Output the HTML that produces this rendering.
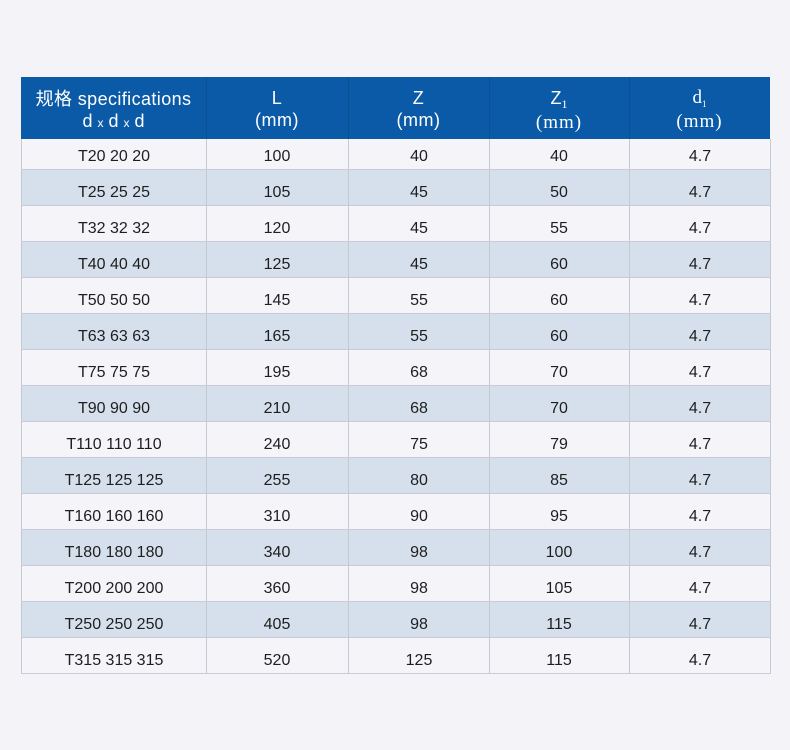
<!DOCTYPE html>
<html>
<head>
<meta charset="utf-8">
<style>
html,body{margin:0;padding:0;}
body{width:790px;height:750px;background:#f3f3f8;position:relative;overflow:hidden;font-family:"Liberation Sans","Noto Sans CJK SC",sans-serif;}
.hdr{position:absolute;left:21px;top:77px;width:749px;height:62px;background:#0a5aa8;}
.vl{position:absolute;top:0;width:1px;height:62px;background:#0d4f93;}
.ht{position:absolute;color:#fff;text-align:center;white-space:nowrap;}
.row{position:absolute;left:21px;width:748px;border-left:1px solid #c5c9d3;border-right:1px solid #c5c9d3;border-bottom:1px solid #c8ccd6;box-sizing:content-box;}
.t{position:absolute;font-size:16px;color:#1e1e1e;white-space:nowrap;text-align:center;transform:translateX(-50%);line-height:20px;}
.serif{font-family:"Liberation Serif","Noto Serif CJK SC",serif;}
</style>
</head>
<body>
<div class="hdr">
  <div class="vl" style="left:185px"></div>
  <div class="vl" style="left:327px"></div>
  <div class="vl" style="left:468px"></div>
  <div class="vl" style="left:608px"></div>
</div>
<div class="ht" style="left:21px;width:185px;top:88px;font-size:18px;line-height:22px;letter-spacing:0.4px;">规格 specifications<br><span style="letter-spacing:0">d <span style="font-size:12px">x</span> d <span style="font-size:12px">x</span> d</span></div>
<div class="ht" style="left:206px;width:142px;top:87px;font-size:18px;line-height:22px;letter-spacing:0.5px;">L<br>(mm)</div>
<div class="ht" style="left:348px;width:141px;top:87px;font-size:18px;line-height:22px;letter-spacing:0.5px;">Z<br>(mm)</div>
<div class="ht" style="left:489px;width:140px;top:87px;font-size:18px;line-height:22px;"><span>Z</span><span class="serif" style="font-size:12px;position:relative;top:4px;">1</span><br><span class="serif" style="letter-spacing:1px;font-size:19px;">(mm)</span></div>
<div class="ht serif" style="left:629px;width:141px;top:87px;font-size:19px;line-height:22px;"><span>d</span><span style="font-size:9px;position:relative;top:4px;">1</span><br><span style="letter-spacing:1px;font-size:19px;">(mm)</span></div>

<div class="row" style="top:139px;height:30px;background:#f5f5f9;"></div>
<div class="row" style="top:170px;height:35px;background:#d6e0ed;"></div>
<div class="row" style="top:206px;height:35px;background:#f5f5f9;"></div>
<div class="row" style="top:242px;height:35px;background:#d6e0ed;"></div>
<div class="row" style="top:278px;height:35px;background:#f5f5f9;"></div>
<div class="row" style="top:314px;height:35px;background:#d6e0ed;"></div>
<div class="row" style="top:350px;height:35px;background:#f5f5f9;"></div>
<div class="row" style="top:386px;height:35px;background:#d6e0ed;"></div>
<div class="row" style="top:422px;height:35px;background:#f5f5f9;"></div>
<div class="row" style="top:458px;height:35px;background:#d6e0ed;"></div>
<div class="row" style="top:494px;height:35px;background:#f5f5f9;"></div>
<div class="row" style="top:530px;height:35px;background:#d6e0ed;"></div>
<div class="row" style="top:566px;height:35px;background:#f5f5f9;"></div>
<div class="row" style="top:602px;height:35px;background:#d6e0ed;"></div>
<div class="row" style="top:638px;height:35px;background:#f5f5f9;"></div>

<div style="position:absolute;left:206px;top:139px;width:1px;height:535px;background:#c5c9d3;"></div>
<div style="position:absolute;left:348px;top:139px;width:1px;height:535px;background:#c5c9d3;"></div>
<div style="position:absolute;left:489px;top:139px;width:1px;height:535px;background:#c5c9d3;"></div>
<div style="position:absolute;left:629px;top:139px;width:1px;height:535px;background:#c5c9d3;"></div>

<div class="t" style="left:114px;top:147px">T20 20 20</div><div class="t" style="left:277px;top:147px">100</div><div class="t" style="left:419px;top:147px">40</div><div class="t" style="left:559px;top:147px">40</div><div class="t" style="left:700px;top:147px">4.7</div>
<div class="t" style="left:114px;top:183px">T25 25 25</div><div class="t" style="left:277px;top:183px">105</div><div class="t" style="left:419px;top:183px">45</div><div class="t" style="left:559px;top:183px">50</div><div class="t" style="left:700px;top:183px">4.7</div>
<div class="t" style="left:114px;top:219px">T32 32 32</div><div class="t" style="left:277px;top:219px">120</div><div class="t" style="left:419px;top:219px">45</div><div class="t" style="left:559px;top:219px">55</div><div class="t" style="left:700px;top:219px">4.7</div>
<div class="t" style="left:114px;top:255px">T40 40 40</div><div class="t" style="left:277px;top:255px">125</div><div class="t" style="left:419px;top:255px">45</div><div class="t" style="left:559px;top:255px">60</div><div class="t" style="left:700px;top:255px">4.7</div>
<div class="t" style="left:114px;top:291px">T50 50 50</div><div class="t" style="left:277px;top:291px">145</div><div class="t" style="left:419px;top:291px">55</div><div class="t" style="left:559px;top:291px">60</div><div class="t" style="left:700px;top:291px">4.7</div>
<div class="t" style="left:114px;top:327px">T63 63 63</div><div class="t" style="left:277px;top:327px">165</div><div class="t" style="left:419px;top:327px">55</div><div class="t" style="left:559px;top:327px">60</div><div class="t" style="left:700px;top:327px">4.7</div>
<div class="t" style="left:114px;top:363px">T75 75 75</div><div class="t" style="left:277px;top:363px">195</div><div class="t" style="left:419px;top:363px">68</div><div class="t" style="left:559px;top:363px">70</div><div class="t" style="left:700px;top:363px">4.7</div>
<div class="t" style="left:114px;top:399px">T90 90 90</div><div class="t" style="left:277px;top:399px">210</div><div class="t" style="left:419px;top:399px">68</div><div class="t" style="left:559px;top:399px">70</div><div class="t" style="left:700px;top:399px">4.7</div>
<div class="t" style="left:114px;top:435px">T110 110 110</div><div class="t" style="left:277px;top:435px">240</div><div class="t" style="left:419px;top:435px">75</div><div class="t" style="left:559px;top:435px">79</div><div class="t" style="left:700px;top:435px">4.7</div>
<div class="t" style="left:114px;top:471px">T125 125 125</div><div class="t" style="left:277px;top:471px">255</div><div class="t" style="left:419px;top:471px">80</div><div class="t" style="left:559px;top:471px">85</div><div class="t" style="left:700px;top:471px">4.7</div>
<div class="t" style="left:114px;top:507px">T160 160 160</div><div class="t" style="left:277px;top:507px">310</div><div class="t" style="left:419px;top:507px">90</div><div class="t" style="left:559px;top:507px">95</div><div class="t" style="left:700px;top:507px">4.7</div>
<div class="t" style="left:114px;top:543px">T180 180 180</div><div class="t" style="left:277px;top:543px">340</div><div class="t" style="left:419px;top:543px">98</div><div class="t" style="left:559px;top:543px">100</div><div class="t" style="left:700px;top:543px">4.7</div>
<div class="t" style="left:114px;top:579px">T200 200 200</div><div class="t" style="left:277px;top:579px">360</div><div class="t" style="left:419px;top:579px">98</div><div class="t" style="left:559px;top:579px">105</div><div class="t" style="left:700px;top:579px">4.7</div>
<div class="t" style="left:114px;top:615px">T250 250 250</div><div class="t" style="left:277px;top:615px">405</div><div class="t" style="left:419px;top:615px">98</div><div class="t" style="left:559px;top:615px">115</div><div class="t" style="left:700px;top:615px">4.7</div>
<div class="t" style="left:114px;top:651px">T315 315 315</div><div class="t" style="left:277px;top:651px">520</div><div class="t" style="left:419px;top:651px">125</div><div class="t" style="left:559px;top:651px">115</div><div class="t" style="left:700px;top:651px">4.7</div>
</body>
</html>
